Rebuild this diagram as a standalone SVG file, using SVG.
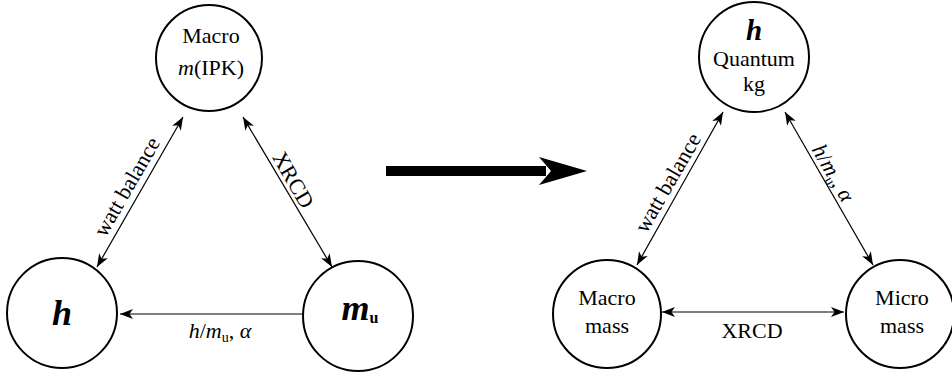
<svg xmlns="http://www.w3.org/2000/svg" width="952" height="372" viewBox="0 0 952 372" font-family="'Liberation Serif', 'DejaVu Serif', 'Times New Roman', serif">
<style>
.node{fill:#fff;stroke:#000;stroke-width:2}
.edge{stroke:#000;stroke-width:1.2;fill:none}
text{font-family:'Liberation Serif','DejaVu Serif','Times New Roman',serif;font-size:22px;fill:#000}
.c{text-anchor:middle}
.big{font-size:36px;font-weight:bold;font-style:italic}
.it{font-style:italic}
.sub{font-size:14px;font-style:normal}
</style>
<defs>
<marker id="ah" viewBox="-14 -6 15 12" markerWidth="15" markerHeight="12" refX="0" refY="0" orient="auto-start-reverse" markerUnits="userSpaceOnUse">
<path d="M0,0 L-13,-5 L-9.5,0 L-13,5 Z" fill="#000"/>
</marker>
</defs>
<g id="connectors">
<line class="edge" x1="183" y1="117" x2="97" y2="267" marker-start="url(#ah)" marker-end="url(#ah)"/>
<line class="edge" x1="243" y1="117" x2="332" y2="267" marker-start="url(#ah)" marker-end="url(#ah)"/>
<line class="edge" x1="303" y1="314" x2="120" y2="314" marker-end="url(#ah)"/>
<line class="edge" x1="723" y1="112" x2="637" y2="265" marker-start="url(#ah)" marker-end="url(#ah)"/>
<line class="edge" x1="785" y1="112" x2="873" y2="265" marker-start="url(#ah)" marker-end="url(#ah)"/>
<line class="edge" x1="662" y1="312" x2="844" y2="312" marker-start="url(#ah)" marker-end="url(#ah)"/>
<text class="c" transform="translate(127,187) rotate(-60)" y="7">watt balance</text>
<text class="c" transform="translate(293,180) rotate(60)" y="7">XRCD</text>
<text class="c" x="220" y="338"><tspan class="it">h</tspan>/<tspan class="it">m</tspan><tspan class="sub" dy="4">u</tspan><tspan dy="-4">, </tspan><tspan class="it">α</tspan></text>
<text class="c" transform="translate(668,183) rotate(-60)" y="7">watt balance</text>
<text class="c" transform="translate(833,173) rotate(60)" y="7"><tspan class="it">h</tspan>/<tspan class="it">m</tspan><tspan class="sub" dy="4">u</tspan><tspan dy="-4">, </tspan><tspan class="it">α</tspan></text>
<text class="c" x="752" y="338">XRCD</text>
</g>
<g id="transition">
<rect x="386" y="166" width="160" height="10" fill="#000"/>
<polygon points="539,157 587,171 539,185 551,171" fill="#000"/>
</g>
<g id="macro-ipk">
<circle class="node" cx="209" cy="58" r="53"/>
<text class="c" x="211" y="43">Macro</text>
<text class="c" x="211" y="75"><tspan class="it">m</tspan>(IPK)</text>
</g>
<g id="h-left">
<circle class="node" cx="62" cy="313" r="55"/>
<text class="c big" x="62" y="325">h</text>
</g>
<g id="mu">
<circle class="node" cx="358" cy="316" r="55"/>
<text class="c" x="360" y="320"><tspan class="big">m</tspan><tspan font-size="16" font-weight="bold" dy="3">u</tspan></text>
</g>
<g id="quantum-kg">
<circle class="node" cx="754" cy="57" r="55"/>
<text class="c big" x="754" y="40" style="font-size:29px">h</text>
<text class="c" x="754" y="66">Quantum</text>
<text class="c" x="754" y="90.5">kg</text>
</g>
<g id="macro-mass">
<circle class="node" cx="607" cy="314" r="54"/>
<text class="c" x="607" y="305">Macro</text>
<text class="c" x="607" y="333">mass</text>
</g>
<g id="micro-mass">
<circle class="node" cx="900" cy="314" r="54"/>
<text class="c" x="902" y="305">Micro</text>
<text class="c" x="902" y="333">mass</text>
</g>
</svg>
